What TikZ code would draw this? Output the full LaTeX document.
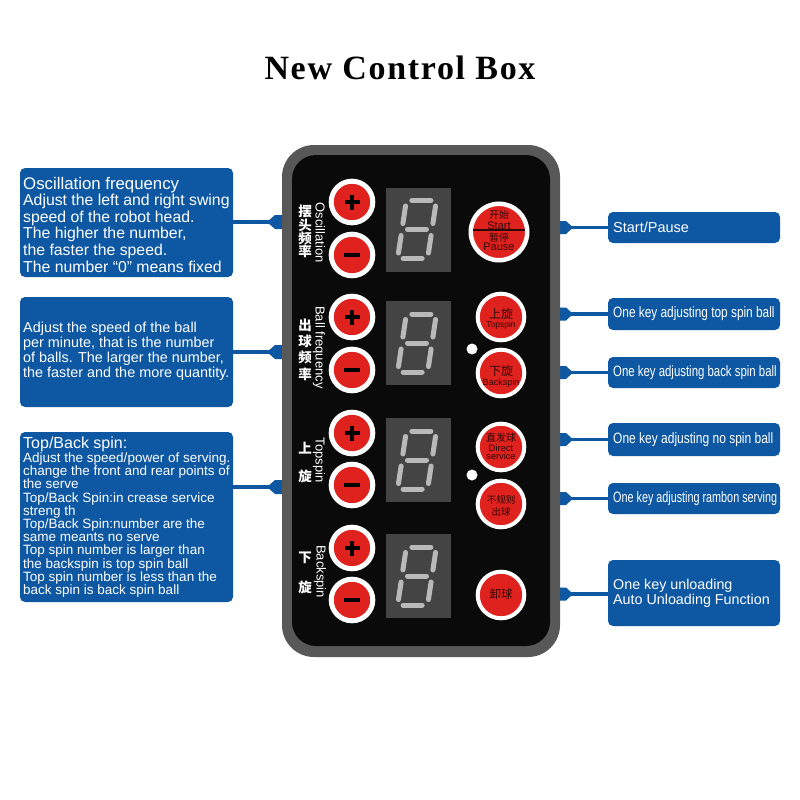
\documentclass[tikz,border=0pt]{standalone}
\usepackage{fontspec}
\usepackage{graphicx}
\setmainfont{Liberation Sans}
\newfontfamily\titlefont[LetterSpace=5]{Liberation Serif}
\newfontfamily\cjk{Noto Sans CJK SC}
\usetikzlibrary{calc}
\definecolor{cbBlue}{RGB}{14,88,163}
\definecolor{cbGray}{RGB}{88,88,88}
\definecolor{cbBlack}{RGB}{10,10,10}
\definecolor{cbRed}{RGB}{224,34,30}
\definecolor{cbDisp}{RGB}{68,68,68}
\definecolor{cbSeg}{RGB}{185,185,185}
\definecolor{cbInk}{RGB}{45,8,8}
\tikzset{
  lbox/.style={fill=cbBlue, rounded corners=5pt, minimum width=213pt, inner sep=0pt},
  rbox/.style={fill=cbBlue, rounded corners=5pt, minimum width=172pt, inner sep=0pt},
  ltxt/.style={anchor=west, align=left, text=white, inner sep=0pt},
  conn/.style={cbBlue, line width=3.5pt},
  tabfill/.style={fill=cbBlue},
  pmbtn/.style={circle, fill=cbRed, draw=white, line width=5pt, minimum size=41.6pt, inner sep=0pt},
  plusbtn/.style={pmbtn, path picture={
      \draw[draw=black, line width=3.2pt] ([xshift=-7.5pt]path picture bounding box.center) -- ([xshift=7.5pt]path picture bounding box.center);
      \draw[draw=black, line width=3.2pt] ([yshift=-7.5pt]path picture bounding box.center) -- ([yshift=7.5pt]path picture bounding box.center);}},
  minusbtn/.style={pmbtn, path picture={
      \draw[draw=black, line width=3.8pt] ([xshift=-8pt]path picture bounding box.center) -- ([xshift=8pt]path picture bounding box.center);}},
  keybtn/.style={circle, fill=cbRed, draw=white, line width=4pt, minimum size=46.6pt, inner sep=0pt},
  btxt/.style={text=cbInk, inner sep=0pt},
  disp/.style={fill=cbDisp, minimum width=65pt, minimum height=84pt, inner sep=0pt},
  seg/.style={cbSeg, line width=5pt, line cap=round},
  vlab/.style={text=white, inner sep=0pt, font=\fontsize{13}{13}\selectfont},
  cjkw/.style={text=white, inner sep=0pt, font=\cjk\bfseries\fontsize{13.5}{13.5}\selectfont},
}
\begin{document}
\begin{tikzpicture}[x=1pt,y=-1pt]
\useasboundingbox (0,0) rectangle (800,800);
\fill[white] (0,0) rectangle (800,800);

% title
\node[anchor=base, inner sep=0pt, font=\titlefont\bfseries\fontsize{34}{34}\selectfont] (title) at (400,80) {New Control Box};

% left explanation boxes
\node[lbox, minimum height=109pt] (b1) at (126.5,222.5) {};
\node[lbox, minimum height=110pt] (b2) at (126.5,352) {};
\node[lbox, minimum height=170pt] (b3) at (126.5,517) {};
\node[ltxt, font=\fontsize{15.8}{16.6}\selectfont] (t1) at (23,224.5)
  {{\fontsize{16.8}{16.6}\selectfont Oscillation frequency}\\Adjust the left and right swing\\speed of the robot head.\\The higher the number,\\the faster the speed.\\The number “0" means fixed};
\node[ltxt, font=\fontsize{14.4}{15}\selectfont] (t2) at (23,351)
  {Adjust the speed of the ball\\per minute, that is the number\\of balls. The larger the number,\\the faster and the more quantity.};
\node[ltxt, font=\fontsize{13.5}{13.2}\selectfont] (t3) at (23,517)
  {{\fontsize{16}{14}\selectfont Top/Back spin:}\\[0.8pt]Adjust the speed/power of serving.\\change the front and rear points of\\the serve\\Top/Back Spin:in crease service\\streng th\\Top/Back Spin:number are the\\same meants no serve\\Top spin number is larger than\\the backspin is top spin ball\\Top spin number is less than the\\back spin is back spin ball};

% right explanation boxes
\node[rbox, minimum height=31pt] (r1) at (694,227.5) {};
\node[rbox, minimum height=32pt] (r2) at (694,314) {};
\node[rbox, minimum height=31pt] (r3) at (694,372.5) {};
\node[rbox, minimum height=33pt] (r4) at (694,439.5) {};
\node[rbox, minimum height=31pt] (r5) at (694,498.5) {};
\node[rbox, minimum height=66pt] (r6) at (694,593) {};
\node[ltxt, font=\fontsize{14.5}{15}\selectfont] (s1) at (613,227.5) {Start/Pause};
\node[ltxt, font=\fontsize{15}{15}\selectfont] (s2) at (613,314) {\scalebox{0.79}[1]{One key adjusting top spin ball}};
\node[ltxt, font=\fontsize{15}{15}\selectfont] (s3) at (613,372.5) {\scalebox{0.76}[1]{One key adjusting back spin ball}};
\node[ltxt, font=\fontsize{15}{15}\selectfont] (s4) at (613,439.5) {\scalebox{0.8}[1]{One key adjusting no spin ball}};
\node[ltxt, font=\fontsize{15}{15}\selectfont] (s5) at (613,498.5) {\scalebox{0.72}[1]{One key adjusting rambon serving}};
\node[ltxt, font=\fontsize{14.3}{15}\selectfont] (s6) at (613,593) {One key unloading\\Auto Unloading Function};

% connector end points on the panel edge
\coordinate (lt1) at (282,222);
\coordinate (lt2) at (282,352);
\coordinate (lt3) at (282,487);
\coordinate (rt1) at (560,227.5);
\coordinate (rt2) at (560,314);
\coordinate (rt3) at (560,372.5);
\coordinate (rt4) at (560,439.5);
\coordinate (rt5) at (560,498.5);
\coordinate (rt6) at (560,594);

\foreach \b/\t in {b1/lt1,b2/lt2,b3/lt3}{
  \draw[conn] (\t -| \b.east) -- (\t);
  \fill[tabfill] (\t) ++(-15,0) -- ++(8,-7) -- ++(8,0) -- ++(0,14) -- ++(-8,0) -- cycle;
}
\foreach \b/\t in {r1/rt1,r2/rt2,r3/rt3,r4/rt4,r5/rt5,r6/rt6}{
  \draw[conn] (\t) -- (\t -| \b.west);
  \fill[tabfill] (\t) ++(-1,-6.5) -- ++(7,0) -- ++(7,6.5) -- ++(-7,6.5) -- ++(-7,0) -- cycle;
}

% panel
\node[fill=cbGray, rounded corners=32pt, minimum width=278pt, minimum height=512pt, inner sep=0pt] (panel) at (421,401) {};
\node[fill=cbBlack, rounded corners=24pt, minimum width=258pt, minimum height=491pt, inner sep=0pt] (face) at (421,400.5) {};

% displays
\node[disp] (d1) at (418.5,229.5) {};
\node[disp] (d2) at (418.5,343) {};
\node[disp] (d3) at (418.5,460) {};
\node[disp] (d4) at (418.5,576) {};
\foreach \d in {d1,d2,d3,d4}{
  \begin{scope}[shift={(\d.center)}, xslant=0.15]
    \draw[seg] (-11,-29) -- (8,-29);
    \draw[seg] (-11,0) -- (8,0);
    \draw[seg] (-11,29) -- (8,29);
    \draw[seg] (-16.5,-23.5) -- (-16.5,-6);
    \draw[seg] (13.5,-23.5) -- (13.5,-6);
    \draw[seg] (-16.5,6) -- (-16.5,23.5);
    \draw[seg] (13.5,6) -- (13.5,23.5);
  \end{scope}
}

% plus / minus buttons
\node[plusbtn] (p1) at (352,202) {};
\node[minusbtn] (m1) at (352,255) {};
\node[plusbtn] (p2) at (352,317) {};
\node[minusbtn] (m2) at (352,370) {};
\node[plusbtn] (p3) at (352,433) {};
\node[minusbtn] (m3) at (352,485) {};
\node[plusbtn] (p4) at (352,548) {};
\node[minusbtn] (m4) at (352,600) {};

% indicator dots
\fill[white] (472,349) circle[radius=5.5pt];
\fill[white] (472,475) circle[radius=5.5pt];

% vertical labels
\node[vlab, rotate=-90, anchor=base] (lo) at (315.5,232.5) {Oscillation};
\node[vlab, rotate=-90, anchor=base] (lb) at (315.5,347.5) {Ball frequency};
\node[vlab, rotate=-90, anchor=base] (lt) at (315.5,460) {Topspin};
\node[vlab, rotate=-90, anchor=base] (lk) at (316.5,571.5) {Backspin};
\node[cjkw] (c11) at (305,211.7) {摆};
\node[cjkw] (c12) at (305,225) {头};
\node[cjkw] (c13) at (305,238.3) {频};
\node[cjkw] (c14) at (305,251.7) {率};
\node[cjkw] (c21) at (305,325) {出};
\node[cjkw] (c22) at (305,341.3) {球};
\node[cjkw] (c23) at (305,357.6) {频};
\node[cjkw] (c24) at (305,374) {率};
\node[cjkw] (c31) at (305,448) {上};
\node[cjkw] (c32) at (305,476) {旋};
\node[cjkw] (c41) at (305,557.5) {下};
\node[cjkw] (c42) at (305,587) {旋};

% right column keys
\node[circle, fill=cbRed, draw=white, line width=4.5pt, minimum size=56.5pt, inner sep=0pt] (kstart) at (499,232) {};
\draw[cbInk, line width=1.2pt] (473,230) -- (525,230);
\node[btxt, font=\cjk\fontsize{10}{10}\selectfont] (ks1) at (499,215) {开始};
\node[btxt, font=\fontsize{11}{11}\selectfont] (ks2) at (499,225.5) {Start};
\node[btxt, font=\cjk\fontsize{10}{10}\selectfont] (ks3) at (499,237.5) {暂停};
\node[btxt, font=\fontsize{11}{11}\selectfont] (ks4) at (499,246.5) {Pause};

\node[keybtn] (ktop) at (501,317) {};
\node[btxt, font=\cjk\fontsize{12}{12}\selectfont] (kt1) at (501,314) {上旋};
\node[btxt, font=\fontsize{8.5}{8.5}\selectfont] (kt2) at (501,325.5) {Topspin};

\node[keybtn] (kback) at (501,373) {};
\node[btxt, font=\cjk\fontsize{12}{12}\selectfont] (kb1) at (501,370.5) {下旋};
\node[btxt, font=\fontsize{9}{9}\selectfont] (kb2) at (501,383) {Backspin};

\node[keybtn] (kdir) at (501,447) {};
\node[btxt, font=\cjk\fontsize{10}{10}\selectfont] (kd1) at (501,438) {直发球};
\node[btxt, font=\fontsize{9.4}{9.4}\selectfont] (kd2) at (501,448.5) {Direct};
\node[btxt, font=\fontsize{9.2}{9.2}\selectfont] (kd3) at (501,456.5) {service};

\node[keybtn] (kirr) at (501,504) {};
\node[btxt, font=\cjk\fontsize{9.5}{9.5}\selectfont] (ki1) at (501,499.5) {不规则};
\node[btxt, font=\cjk\fontsize{9.5}{9.5}\selectfont] (ki2) at (501,512) {出球};

\node[keybtn] (kunl) at (501,595) {};
\node[btxt, font=\cjk\fontsize{11.5}{11.5}\selectfont] (ku1) at (501,594.5) {卸球};
\end{tikzpicture}
\end{document}
